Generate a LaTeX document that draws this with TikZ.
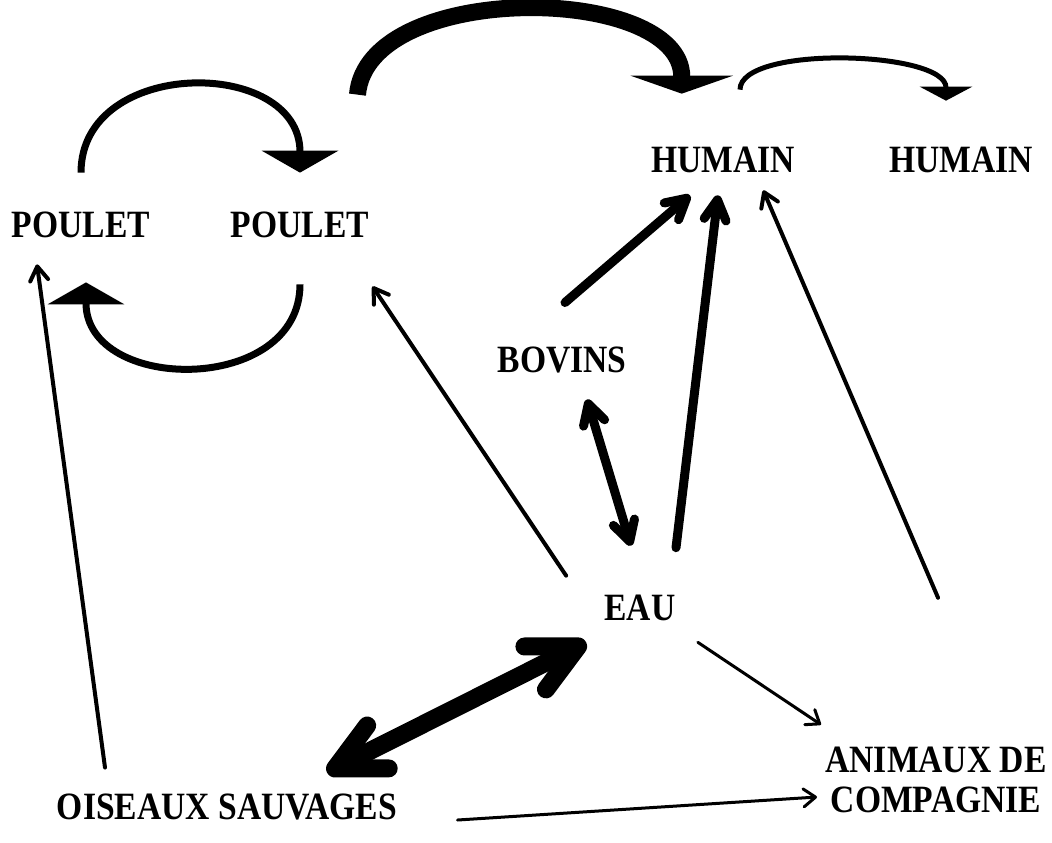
\documentclass[tikz,border=0pt]{standalone}
\usepackage{graphicx}
\usepackage{fontspec}
\setmainfont{Liberation Serif}
\usetikzlibrary{arrows.meta}

\newcommand{\etiq}[1]{\scalebox{1}[1.15]{#1}}

\tikzset{
  hote/.style={font=\bfseries\fontsize{16.8pt}{20pt}\selectfont, inner sep=0pt, align=center},
  fin/.style={line width=1.5pt, line cap=round, -{Straight Barb[round,length=6pt,width=9pt]}},
  mince/.style={line width=2pt, line cap=round, -{Straight Barb[round,length=7pt,width=9pt]}},
  epais/.style={line width=4.5pt, line cap=round, -{Straight Barb[round,length=10pt,width=11pt]}},
  tresepais/.style={line width=9pt, line cap=round, {Straight Barb[round,length=24pt,width=24pt]}-{Straight Barb[round,length=24pt,width=24pt]}},
  cycle/.style={line width=3.5pt, -{Triangle[length=11pt,width=38pt]}},
  grandarc/.style={line width=8.5pt, -{Triangle[length=9pt,width=51pt]}},
  petitarc/.style={line width=2.5pt, -{Triangle[length=7pt,width=26pt]}}
}

\begin{document}
\begin{tikzpicture}[x=0.5pt,y=-0.5pt]
\useasboundingbox (0,0) rectangle (1052,842);

\node[hote] (poulet1) at (81,225) {\etiq{POULET}};
\node[hote] (poulet2) at (300,225) {\etiq{POULET}};
\node[hote] (humain1) at (723,160) {\etiq{HUMAIN}};
\node[hote] (humain2) at (961,160) {\etiq{HUMAIN}};
\node[hote] (bovins) at (562,360) {\etiq{BOVINS}};
\node[hote] (eau) at (640,608) {\etiq{EAU}};
\node[hote] (oiseaux) at (227,807) {\etiq{OISEAUX SAUVAGES}};
\node[hote] (animaux) at (936,780) {\etiq{ANIMAUX DE}\\\etiq{COMPAGNIE}};

% transmission poulet - poulet
\draw[cycle] ([yshift=19.5pt]poulet1.north) .. controls +(0,-116) and +(0,-116) .. ([yshift=19.5pt]poulet2.north);
\draw[cycle] ([yshift=-23pt]poulet2.south) .. controls +(0,111) and +(0,111) .. ([xshift=2.5pt,yshift=-22pt]poulet1.south);

% vers l'humain
\draw[grandarc] ([xshift=-6pt,yshift=58.5pt]poulet2.north east) .. controls +(10,-115) and +(0,-110) .. ([xshift=15.5pt,yshift=26.5pt]humain1.north west);
\draw[petitarc] ([xshift=8.5pt,yshift=28.5pt]humain1.north) .. controls +(0,-45) and +(0,-50) .. ([xshift=-7.5pt,yshift=23pt]humain2.north);

\draw[epais] ([xshift=1.5pt,yshift=22pt]bovins.north) -- ([xshift=-16.5pt,yshift=-11pt]humain1.south);
\draw[epais] ([xshift=18pt,yshift=23.5pt]eau.north) -- ([xshift=-2.5pt,yshift=-11pt]humain1.south);
\draw[mince] ([xshift=1pt,yshift=74.5pt]animaux.north) -- ([xshift=-16pt,yshift=-8.5pt]humain1.south east);
\draw[epais,{Straight Barb[round,length=10pt,width=11pt]}-{Straight Barb[round,length=10pt,width=11pt]}] ([xshift=12.5pt,yshift=-13pt]bovins.south) -- ([xshift=-4.5pt,yshift=24.5pt]eau.north);

% eau et oiseaux sauvages
\draw[mince] ([xshift=-19pt,yshift=9.5pt]eau.north west) -- ([xshift=1.5pt,yshift=-24pt]poulet2.south east);
\draw[mince] ([xshift=-61pt,yshift=13pt]oiseaux.north) -- ([xshift=-22pt,yshift=-13pt]poulet1.south);
\draw[tresepais] ([xshift=50pt,yshift=10.5pt]oiseaux.north) -- ([xshift=-9pt,yshift=-10.5pt]eau.south west);
\draw[fin] ([xshift=11pt,yshift=-10.5pt]eau.south east) -- ([xshift=-2pt,yshift=11pt]animaux.north west);
\draw[fin] ([xshift=30pt,yshift=-6.5pt]oiseaux.east) -- ([xshift=-4pt,yshift=-8.5pt]animaux.west);
\end{tikzpicture}
\end{document}
